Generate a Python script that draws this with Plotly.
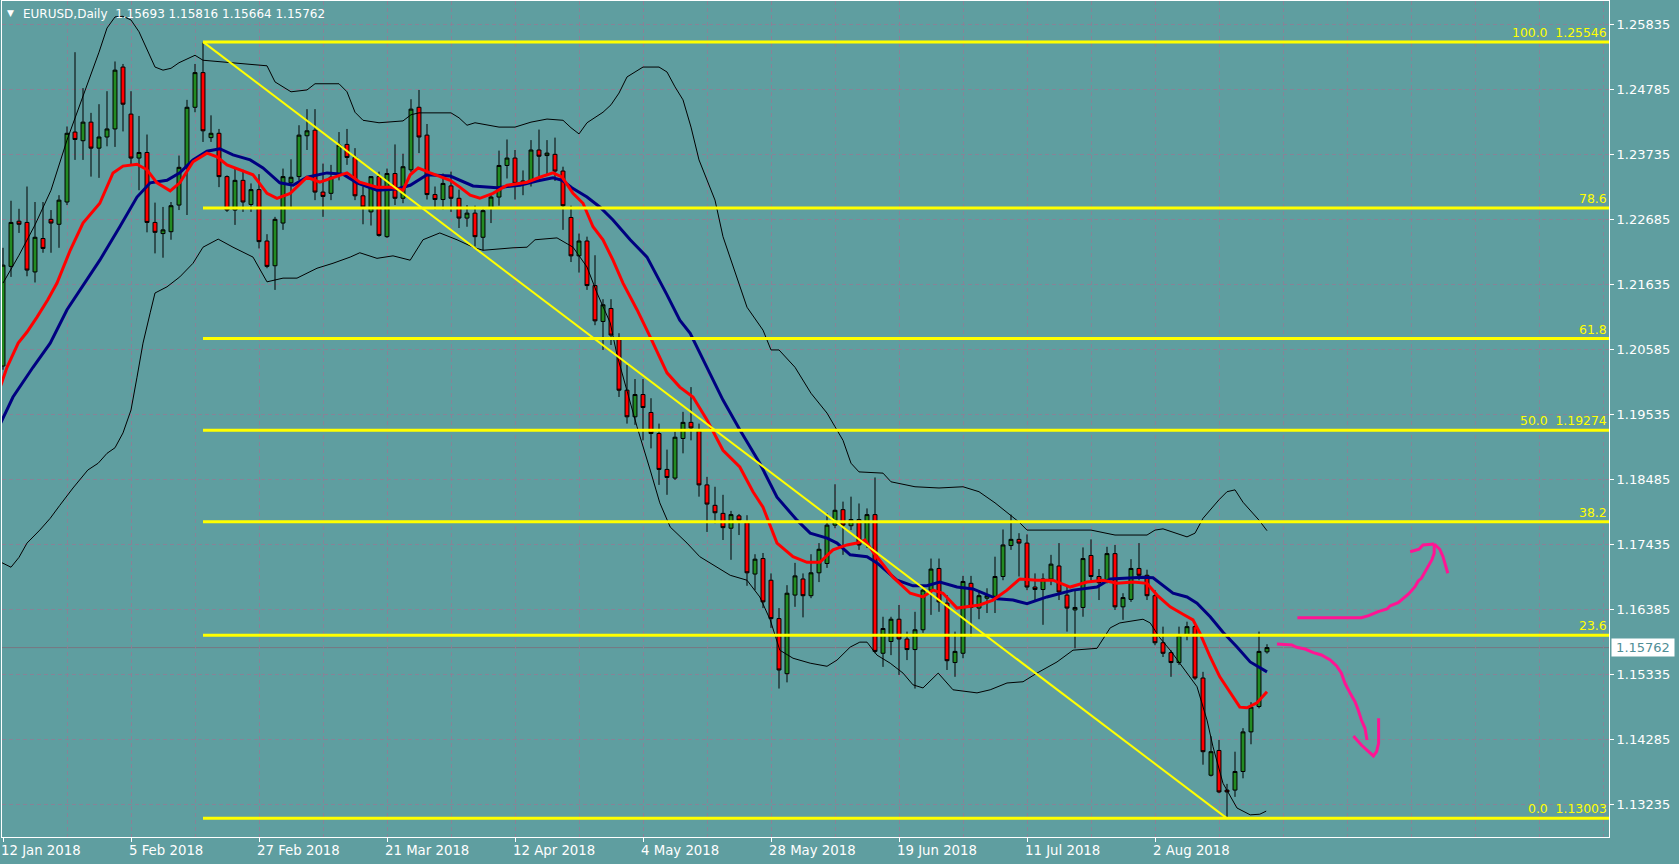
import plotly.graph_objects as go

# ---------------- data ----------------
bars = list(range(159))

opens = [1.2031, 1.2192, 1.2265, 1.2263, 1.2183, 1.2237, 1.2268, 1.2260, 1.2296, 1.2409,
         1.2395, 1.2425, 1.2383, 1.2401, 1.2414, 1.2514, 1.2438, 1.2367, 1.2376, 1.2263,
         1.2245, 1.2248, 1.2291, 1.2351, 1.2449, 1.2505, 1.2400, 1.2407, 1.2337, 1.2283,
         1.2331, 1.2292, 1.2316, 1.2233, 1.2193, 1.2262, 1.2327, 1.2337, 1.2403, 1.2412,
         1.2312, 1.2310, 1.2340, 1.2389, 1.2368, 1.2306, 1.2280, 1.2337, 1.2240, 1.2342,
         1.2302, 1.2348, 1.2449, 1.2404, 1.2308, 1.2300, 1.2322, 1.2302, 1.2270, 1.2278,
         1.2239, 1.2286, 1.2304, 1.2355, 1.2367, 1.2326, 1.2330, 1.2380, 1.2371, 1.2373,
         1.2346, 1.2271, 1.2209, 1.2233, 1.2161, 1.2103, 1.2124, 1.2076, 1.1992, 1.1949,
         1.1985, 1.1956, 1.1922, 1.1864, 1.1850, 1.1914, 1.1940, 1.1926, 1.1839, 1.1806,
         1.1793, 1.1769, 1.1789, 1.1778, 1.1695, 1.1720, 1.1685, 1.1623, 1.1534, 1.1661,
         1.1687, 1.1660, 1.1697, 1.1712, 1.1774, 1.1799, 1.1773, 1.1783, 1.1742, 1.1791,
         1.1567, 1.1586, 1.1622, 1.1590, 1.1573, 1.1605, 1.1669, 1.1704, 1.1648, 1.1552,
         1.1567, 1.1680, 1.1640, 1.1656, 1.1659, 1.1691, 1.1741, 1.1751, 1.1745, 1.1674,
         1.1670, 1.1687, 1.1708, 1.1661, 1.1637, 1.1641, 1.1725, 1.1691, 1.1685, 1.1728,
         1.1642, 1.1654, 1.1704, 1.1693, 1.1660, 1.1584, 1.1568, 1.1552, 1.1596, 1.1610,
         1.1527, 1.1370, 1.1410, 1.1346, 1.1346, 1.1376, 1.1440, 1.1481, 1.15693]

highs = [1.2222, 1.2298, 1.2285, 1.2321, 1.2296, 1.2296, 1.2283, 1.2307, 1.2418, 1.2538,
         1.2480, 1.2440, 1.2454, 1.2475, 1.2523, 1.2519, 1.2475, 1.2435, 1.2405, 1.2295,
         1.2288, 1.2296, 1.2371, 1.2461, 1.2519, 1.25546, 1.2436, 1.2414, 1.2339, 1.2350,
         1.2348, 1.2326, 1.2341, 1.2244, 1.2272, 1.2350, 1.2365, 1.2420, 1.2446, 1.2446,
         1.2358, 1.2356, 1.2409, 1.2414, 1.2383, 1.2321, 1.2338, 1.2345, 1.2350, 1.2389,
         1.2374, 1.2462, 1.2477, 1.2422, 1.2321, 1.2342, 1.2345, 1.2316, 1.2291, 1.2290,
         1.2288, 1.2310, 1.2379, 1.2397, 1.2380, 1.2347, 1.2396, 1.2413, 1.2396, 1.2400,
         1.2353, 1.2290, 1.2245, 1.2240, 1.2210, 1.2139, 1.2139, 1.2084, 1.2033, 1.2010,
         1.2010, 1.1979, 1.1938, 1.1896, 1.1925, 1.1957, 1.1997, 1.1938, 1.1852, 1.1836,
         1.1823, 1.1797, 1.1792, 1.1790, 1.1727, 1.1729, 1.1696, 1.1640, 1.1677, 1.1713,
         1.1696, 1.1727, 1.1745, 1.1793, 1.1840, 1.1812, 1.1820, 1.1809, 1.1801, 1.1851,
         1.1626, 1.1626, 1.1645, 1.1602, 1.1634, 1.1676, 1.1720, 1.1720, 1.1661, 1.1602,
         1.1692, 1.1692, 1.1669, 1.1672, 1.1723, 1.1767, 1.1791, 1.1761, 1.1759, 1.1696,
         1.1696, 1.1726, 1.1745, 1.1675, 1.1669, 1.1738, 1.1751, 1.1703, 1.1739, 1.1742,
         1.1664, 1.1719, 1.1745, 1.1702, 1.1669, 1.1610, 1.1572, 1.1610, 1.1618, 1.1613,
         1.1537, 1.1433, 1.1427, 1.1356, 1.1408, 1.1446, 1.1488, 1.1602, 1.15816]

lows = [1.2025, 1.2175, 1.2246, 1.2176, 1.2166, 1.2214, 1.2214, 1.2222, 1.2291, 1.2364,
        1.2364, 1.2337, 1.2335, 1.2386, 1.2385, 1.2410, 1.2356, 1.2315, 1.2247, 1.2213,
        1.2206, 1.2235, 1.2283, 1.2275, 1.2441, 1.2393, 1.2393, 1.2320, 1.2280, 1.2259,
        1.2280, 1.2280, 1.2221, 1.2189, 1.2154, 1.2251, 1.2288, 1.2331, 1.2380, 1.2299,
        1.2272, 1.2299, 1.2331, 1.2356, 1.2299, 1.2260, 1.2258, 1.2240, 1.2238, 1.2291,
        1.2294, 1.2344, 1.2375, 1.2300, 1.2284, 1.2284, 1.2280, 1.2254, 1.2256, 1.2224,
        1.2218, 1.2262, 1.2290, 1.2334, 1.2300, 1.2307, 1.2321, 1.2337, 1.2340, 1.2330,
        1.2251, 1.2199, 1.2182, 1.2154, 1.2097, 1.2057, 1.2065, 1.1981, 1.1938, 1.1936,
        1.1911, 1.1898, 1.1839, 1.1823, 1.1847, 1.1890, 1.1911, 1.1820, 1.1763, 1.1777,
        1.1750, 1.1718, 1.1758, 1.1676, 1.1669, 1.1640, 1.1608, 1.1510, 1.1520, 1.1642,
        1.1625, 1.1656, 1.1682, 1.1705, 1.1769, 1.1726, 1.1766, 1.1734, 1.1737, 1.1567,
        1.1545, 1.1564, 1.1532, 1.1556, 1.1510, 1.1600, 1.1629, 1.1634, 1.1540, 1.1529,
        1.1559, 1.1594, 1.1622, 1.1632, 1.1632, 1.1685, 1.1734, 1.1691, 1.1669, 1.1653,
        1.1613, 1.1677, 1.1653, 1.1602, 1.1575, 1.1626, 1.1685, 1.1653, 1.1680, 1.1637,
        1.1621, 1.1650, 1.1685, 1.1653, 1.1580, 1.1561, 1.1529, 1.1548, 1.1588, 1.1524,
        1.1387, 1.1368, 1.1341, 1.13003, 1.1335, 1.1365, 1.1420, 1.1478, 1.15664]

closes = [1.2194, 1.2263, 1.2260, 1.2186, 1.2239, 1.2221, 1.2262, 1.2299, 1.2407, 1.2397,
          1.2425, 1.2383, 1.2401, 1.2414, 1.2509, 1.2454, 1.2367, 1.2376, 1.2263, 1.2247,
          1.2251, 1.2290, 1.2352, 1.2449, 1.2505, 1.2411, 1.2407, 1.2337, 1.2283, 1.2331,
          1.2296, 1.2316, 1.2232, 1.2192, 1.2268, 1.2337, 1.2336, 1.2404, 1.2411, 1.2312,
          1.2305, 1.2336, 1.2388, 1.2368, 1.2306, 1.2288, 1.2337, 1.2242, 1.2342, 1.2302,
          1.2353, 1.2446, 1.2401, 1.2308, 1.2300, 1.2326, 1.2302, 1.2270, 1.2278, 1.2240,
          1.2282, 1.2304, 1.2355, 1.2367, 1.2326, 1.2330, 1.2380, 1.2370, 1.2375, 1.2346,
          1.2290, 1.2209, 1.2233, 1.2161, 1.2104, 1.2130, 1.2081, 1.1992, 1.1949, 1.1985,
          1.1964, 1.1922, 1.1864, 1.1851, 1.1916, 1.1940, 1.1931, 1.1839, 1.1808, 1.1794,
          1.1770, 1.1791, 1.1782, 1.1697, 1.1719, 1.1650, 1.1623, 1.1540, 1.1664, 1.1692,
          1.1660, 1.1697, 1.1735, 1.1774, 1.1798, 1.1774, 1.1783, 1.1742, 1.1791, 1.1570,
          1.1607, 1.1622, 1.1590, 1.1573, 1.1605, 1.1669, 1.1703, 1.1650, 1.1555, 1.1570,
          1.1683, 1.1641, 1.1660, 1.1660, 1.1691, 1.1742, 1.1751, 1.1745, 1.1674, 1.1670,
          1.1687, 1.1711, 1.1666, 1.1640, 1.1641, 1.1720, 1.1691, 1.1681, 1.1728, 1.1642,
          1.1657, 1.1704, 1.1693, 1.1660, 1.1584, 1.1567, 1.1552, 1.1596, 1.1610, 1.1527,
          1.1408, 1.1408, 1.1343, 1.1343, 1.1376, 1.1440, 1.1480, 1.1570, 1.15762]

# Bollinger upper / lower band and the two moving averages (bar position, price)
upper_x = [0, 2, 4, 6, 8, 10, 12, 13, 14, 15, 16, 17, 18, 19, 20, 21, 22, 24, 25, 26, 29, 33,
           34, 36, 38, 39, 42, 43, 44, 45, 47, 50, 51, 52, 56, 57, 58, 59, 62, 64, 66, 68, 70,
           71, 72, 73, 75, 76, 77, 78, 80, 82, 83, 84, 85, 86, 87, 89, 90, 92, 93, 95, 96, 97,
           99, 101, 103, 104, 105, 106, 107, 110, 111, 114, 117, 120, 122, 124, 126, 127, 128,
           132, 136, 139, 143, 144, 145, 148, 149, 150, 152, 153, 154, 155, 157, 158]
upper_y = [1.2165, 1.2210, 1.2259, 1.2315, 1.2396, 1.2466, 1.2538, 1.2577, 1.2595, 1.2596,
           1.2590, 1.2571, 1.2542, 1.2514, 1.2509, 1.2512, 1.2521, 1.2533, 1.2525, 1.2524,
           1.2521, 1.2516, 1.2490, 1.2474, 1.2477, 1.2487, 1.2487, 1.2474, 1.2441, 1.2428,
           1.2424, 1.2427, 1.2437, 1.2440, 1.2440, 1.2432, 1.2420, 1.2424, 1.2417, 1.2417,
           1.2425, 1.2430, 1.2428, 1.2416, 1.2406, 1.2424, 1.2441, 1.2453, 1.2472, 1.2498,
           1.2514, 1.2514, 1.2506, 1.2482, 1.2461, 1.2417, 1.2364, 1.2299, 1.2240, 1.2165,
           1.2126, 1.2089, 1.2057, 1.2057, 1.2029, 1.1987, 1.1955, 1.1933, 1.1911, 1.1874,
           1.1860, 1.1858, 1.1844, 1.1836, 1.1834, 1.1836, 1.1828, 1.1810, 1.1790, 1.1779,
           1.1766, 1.1766, 1.1766, 1.1758, 1.1758, 1.1766, 1.1768, 1.1755, 1.1761, 1.1785,
           1.1815, 1.1828, 1.1831, 1.1811, 1.1782, 1.1765]

lower_x = [-0.4, 1, 2, 3, 4.6, 5.9, 7.1, 8.75, 10.6, 11.9, 13, 14, 15, 16, 16.75, 17.5, 18.4,
           19, 20.5, 22.1, 23.75, 25, 26.9, 28.75, 31.25, 33, 35, 36.75, 39.25, 41.25, 43.4,
           44.6, 46.75, 48.75, 50.9, 52.5, 54.6, 56.75, 58.75, 60, 63.75, 65.5, 66.5, 69.25,
           71.25, 73, 74.25, 75.9, 76.75, 79.25, 80.9, 82.1, 83.4, 85.5, 87.1, 89.25, 90.9,
           93, 94.6, 95.9, 97.1, 98.75, 100.9, 103, 104.25, 105.9, 107.1, 108, 109.25, 110.9,
           112.5, 113.75, 115, 116.9, 118.75, 121.75, 123.4, 125.5, 127.5, 129.25, 131.75,
           133.75, 136.75, 138.4, 139.6, 142.5, 143.4, 144.6, 145.9, 149.25, 150.5, 151.25,
           152.5, 154.25, 155.9, 157.1, 157.9]
lower_y = [1.1715, 1.1706, 1.1722, 1.1745, 1.1766, 1.1785, 1.1806, 1.1834, 1.1863, 1.1874,
           1.1890, 1.1899, 1.1923, 1.1960, 1.2013, 1.2068, 1.2117, 1.2149, 1.2159, 1.2175,
           1.2197, 1.2223, 1.2236, 1.2223, 1.2207, 1.2167, 1.2173, 1.2173, 1.2189, 1.2197,
           1.2207, 1.2214, 1.2205, 1.2209, 1.2202, 1.2235, 1.2246, 1.2235, 1.2223, 1.2218,
           1.2222, 1.2223, 1.2235, 1.2238, 1.2223, 1.2191, 1.2149, 1.2101, 1.2049, 1.1933,
           1.1863, 1.1810, 1.1771, 1.1745, 1.1723, 1.1706, 1.1693, 1.1685, 1.1658, 1.1621,
           1.1572, 1.1559, 1.1551, 1.1546, 1.1556, 1.1577, 1.1585, 1.1585, 1.1564, 1.1551,
           1.1535, 1.1516, 1.1511, 1.1535, 1.1508, 1.1503, 1.1508, 1.1519, 1.1521, 1.1535,
           1.1553, 1.1572, 1.1575, 1.1608, 1.1616, 1.1622, 1.1616, 1.1592, 1.1572, 1.1513,
           1.1459, 1.1416, 1.1357, 1.1317, 1.1306, 1.1307, 1.1312]

red_ma_x = [-0.4, 0.5, 1.9, 3, 4.25, 5.6, 6.75, 8.4, 10, 12.1, 13.75, 15, 16.75, 18, 19.25,
            20.9, 22.1, 23.75, 25.5, 26.75, 28, 29.6, 31.25, 33, 34.25, 35.9, 38, 39.6, 41.25,
            43, 44.6, 46.75, 48.4, 50, 50.9, 51.9, 53.4, 55.9, 57.1, 58.4, 59.6, 61.25, 63,
            65.5, 67.1, 68.75, 69.9, 71.25, 72.5, 73.75, 75, 76.25, 77.5, 79.25, 80.9, 83,
            84.6, 86.25, 88, 90, 92.1, 93.75, 95, 96.75, 98.75, 100.5, 102.1, 103.75, 105.5,
            106.75, 107.75, 108.75, 111.25, 113.4, 115, 116.25, 117.5, 119.25, 122.1, 123.75,
            125.5, 127.1, 129.25, 131.25, 133.4, 135.5, 137.5, 139.25, 141.25, 143, 144.25,
            145.9, 147.5, 148.75, 149.6, 150.9, 152.1, 153.4, 154.6, 155.5, 156.75, 158]
red_ma_y = [1.1995, 1.2029, 1.2068, 1.2086, 1.2110, 1.2138, 1.2165, 1.2218, 1.2262, 1.2294,
            1.2343, 1.2354, 1.2357, 1.2348, 1.2327, 1.2314, 1.2327, 1.2361, 1.2375, 1.2369,
            1.2356, 1.2348, 1.2340, 1.2310, 1.2302, 1.2310, 1.2336, 1.2328, 1.2335, 1.2343,
            1.2328, 1.2320, 1.2320, 1.2315, 1.2340, 1.2351, 1.2343, 1.2331, 1.2320, 1.2307,
            1.2302, 1.2310, 1.2323, 1.2328, 1.2336, 1.2343, 1.2336, 1.2310, 1.2294, 1.2256,
            1.2235, 1.2202, 1.2165, 1.2122, 1.2078, 1.2020, 1.1997, 1.1981, 1.1944, 1.1895,
            1.1868, 1.1828, 1.1803, 1.1745, 1.1723, 1.1714, 1.1714, 1.1734, 1.1742, 1.1745,
            1.1750, 1.1731, 1.1690, 1.1664, 1.1658, 1.1669, 1.1664, 1.1640, 1.1645, 1.1653,
            1.1669, 1.1687, 1.1685, 1.1685, 1.1674, 1.1682, 1.1685, 1.1680, 1.1682, 1.1680,
            1.1661, 1.1642, 1.1630, 1.1621, 1.1600, 1.1561, 1.1529, 1.1503, 1.1480, 1.1479,
            1.1487, 1.1505]

navy_ma_x = [-0.4, 1.25, 3.75, 5.9, 8, 9.6, 12.1, 14.6, 16.75, 18.4, 20.5, 22.1, 23.75, 25.5,
             27.1, 28.75, 30.9, 32.5, 34.6, 36.25, 38, 40.5, 42.5, 44.25, 46.75, 49.25, 50.9,
             53, 55.9, 58.75, 61.75, 64.6, 66.75, 68.75, 69.9, 71.1, 73, 74.6, 76.25, 78.4,
             80.5, 83, 84.6, 85.9, 88, 90, 92.1, 94.6, 96.75, 99.25, 100.9, 103, 104.25, 105.9,
             108, 109.25, 111.75, 113.75, 115.5, 117.1, 119.25, 121.25, 124.25, 126.25, 128,
             130.5, 133.75, 136.75, 138.4, 140.5, 142.5, 143.75, 146.25, 148, 149.25, 150.9,
             152.5, 154.25, 155.9, 158]
navy_ma_y = [1.1936, 1.1981, 1.2029, 1.2068, 1.2122, 1.2154, 1.2202, 1.2256, 1.2304, 1.2327,
             1.2331, 1.2343, 1.2364, 1.2378, 1.2382, 1.2372, 1.2364, 1.2351, 1.2327, 1.2323,
             1.2336, 1.2343, 1.2341, 1.2327, 1.2315, 1.2317, 1.2323, 1.2340, 1.2338, 1.2322,
             1.2319, 1.2323, 1.2330, 1.2335, 1.2331, 1.2319, 1.2304, 1.2288, 1.2267, 1.2235,
             1.2207, 1.2146, 1.2105, 1.2084, 1.2029, 1.1976, 1.1928, 1.1874, 1.1819, 1.1782,
             1.1761, 1.1753, 1.1745, 1.1726, 1.1723, 1.1713, 1.1685, 1.1676, 1.1676, 1.1682,
             1.1674, 1.1671, 1.1655, 1.1653, 1.1647, 1.1658, 1.1669, 1.1674, 1.1687, 1.1689,
             1.1690, 1.1689, 1.1664, 1.1658, 1.1648, 1.1626, 1.1601, 1.1577, 1.1553, 1.1537]

# Time axis labels
date_ticks = [0, 16, 32, 48, 64, 80, 96, 112, 128, 144]
date_labels = ["12 Jan 2018", "5 Feb 2018", "27 Feb 2018", "21 Mar 2018", "12 Apr 2018",
               "4 May 2018", "28 May 2018", "19 Jun 2018", "11 Jul 2018", "2 Aug 2018"]
grid_bars = list(range(0, 201, 8))

# Price axis labels
price_ticks = [1.25835, 1.24785, 1.23735, 1.22685, 1.21635, 1.20585, 1.19535,
               1.18485, 1.17435, 1.16385, 1.15335, 1.14285, 1.13235]

# Fibonacci retracement
fib_start_bar = 25
fib_end_bar = 153
fib_high = 1.25546
fib_low = 1.13003
fib_levels = [100.0, 78.6, 61.8, 50.0, 38.2, 23.6, 0.0]
fib_with_price = [True, False, False, True, False, False, True]

# Hand drawn arrows (bar position, price)
arrow_up_x = [161.8, 169.8, 170.7, 171.9, 173.0, 173.4, 174.4, 175.7, 176.5, 176.9, 177.3,
              177.75, 178.2, 178.6, 178.9, 178.9, None, 175.9, 177.0, 177.5, 178.9, None,
              178.9, 179.6, 180.0, 180.3, 180.6]
arrow_up_y = [1.16245, 1.16245, 1.16277, 1.16342, 1.16385, 1.16438, 1.16487, 1.16628, 1.16746,
              1.16838, 1.16881, 1.16978, 1.17068, 1.17177, 1.17285, 1.17435, None, 1.17311,
              1.17350, 1.17419, 1.17435, None, 1.17435, 1.17350, 1.17230, 1.17096, 1.16962]
arrow_down_x = [159.25, 161.1, 161.7, 162.75, 163.8, 164.8, 165.9, 166.7, 167.3, 167.75,
                168.4, 169.0, 169.4, 169.8, 170.25, 170.5, None, 168.8, 169.8, 170.7, 171.3,
                171.7, 171.95, 171.95]
arrow_down_y = [1.15820, 1.15804, 1.15767, 1.15739, 1.15680, 1.15642, 1.15561, 1.15464,
                1.15347, 1.15185, 1.15023, 1.14887, 1.14754, 1.14592, 1.14458, 1.14269, None,
                1.14334, 1.14188, 1.14080, 1.14011, 1.14080, 1.14215, 1.14619]

symbol = "EURUSD,Daily"

# ---------------- styling ----------------
BG = "#5F9EA0"
GRID = "rgba(140,128,150,0.9)"
FONT = "DejaVu Sans"
X_RANGE = [-0.125, 200.75]
Y_RANGE = [1.12702, 1.26207]

fig = go.Figure()

fig.add_trace(go.Scatter(x=upper_x, y=upper_y, mode="lines",
                         line=dict(color="black", width=1), hoverinfo="skip"))
fig.add_trace(go.Scatter(x=lower_x, y=lower_y, mode="lines",
                         line=dict(color="black", width=1), hoverinfo="skip"))

fig.add_trace(go.Candlestick(
    x=bars, open=opens, high=highs, low=lows, close=closes,
    increasing=dict(fillcolor="#228B22", line=dict(color="black", width=1)),
    decreasing=dict(fillcolor="#FF0000", line=dict(color="black", width=1)),
    whiskerwidth=0, hoverinfo="skip"))

fig.add_trace(go.Scatter(x=navy_ma_x, y=navy_ma_y, mode="lines",
                         line=dict(color="#000080", width=3), hoverinfo="skip"))
fig.add_trace(go.Scatter(x=red_ma_x, y=red_ma_y, mode="lines",
                         line=dict(color="#FF0000", width=3), hoverinfo="skip"))

# Bid line at last close
last_close = closes[-1]
fig.add_shape(type="line", xref="paper", x0=0, x1=1, yref="y", y0=last_close, y1=last_close,
              line=dict(color="rgb(120,120,130)", width=1), layer="below")

# Fibonacci lines
fib_range = fib_high - fib_low
annotations = []
for lvl, show_price in zip(fib_levels, fib_with_price):
    price = fib_low + fib_range * lvl / 100.0
    fig.add_shape(type="line", xref="x", yref="y", x0=fib_start_bar, x1=X_RANGE[1],
                  y0=price, y1=price, line=dict(color="#FFFF00", width=3))
    label = f"{lvl:.1f}"
    if show_price:
        label += "\u00a0\u00a0" + f"{price:.5f}"
    annotations.append(dict(xref="paper", x=1, xanchor="right", yref="y", y=price,
                            yanchor="bottom", yshift=0, text=label, showarrow=False,
                            font=dict(family=FONT, size=12.4, color="#FFFF00")))
fig.add_shape(type="line", xref="x", yref="y", x0=fib_start_bar, y0=fib_high,
              x1=fib_end_bar, y1=fib_low, line=dict(color="#FFFF00", width=2))

# hand drawn arrows
fig.add_trace(go.Scatter(x=arrow_up_x, y=arrow_up_y, mode="lines",
                         line=dict(color="#FF1493", width=3), hoverinfo="skip"))
fig.add_trace(go.Scatter(x=arrow_down_x, y=arrow_down_y, mode="lines",
                         line=dict(color="#FF1493", width=3), hoverinfo="skip"))

# time axis labels, left-aligned on their tick as in the terminal
for b, txt in zip(date_ticks, date_labels):
    annotations.append(dict(xref="x", x=b, xanchor="left", xshift=-4, yref="paper", y=0,
                            yanchor="top", yshift=-4, text=txt, showarrow=False,
                            font=dict(family=FONT, size=13.3, color="white")))

# title
annotations.append(dict(xref="paper", x=0, xanchor="left", yref="paper", y=1, yanchor="top",
                        xshift=3, yshift=-5, text="\u25bc", showarrow=False,
                        font=dict(family=FONT, size=9, color="white")))
annotations.append(dict(xref="paper", x=0, xanchor="left", yref="paper", y=1, yanchor="top",
                        xshift=19, yshift=-4,
                        text=f"{symbol}\u00a0\u00a0{opens[-1]:.5f} {highs[-1]:.5f} {lows[-1]:.5f} {closes[-1]:.5f}",
                        showarrow=False, font=dict(family=FONT, size=12, color="white")))
# current price tag
annotations.append(dict(xref="paper", x=1, xanchor="left", xshift=2, yref="y", y=last_close,
                        yanchor="middle", text=f"{last_close:.5f}", showarrow=False,
                        bgcolor="white", width=60, height=15, borderpad=1,
                        font=dict(family=FONT, size=13, color="#4F8E96")))

fig.update_layout(
    width=1679, height=864,
    margin=dict(l=2, r=70, t=1, b=27),
    paper_bgcolor=BG, plot_bgcolor=BG,
    showlegend=False,
    annotations=annotations,
    font=dict(family=FONT, size=12, color="white"),
    xaxis=dict(
        range=X_RANGE, rangeslider=dict(visible=False),
        tickmode="array", tickvals=date_ticks, ticktext=date_labels, showticklabels=False,
        ticks="outside", ticklen=4, tickcolor="white", tickwidth=1,
        showgrid=True, gridcolor=GRID, griddash="4px,3px", gridwidth=1,
        minor=dict(tickmode="array", tickvals=grid_bars, showgrid=True, gridcolor=GRID,
                   griddash="4px,3px", gridwidth=1, ticks=""),
        showline=True, linecolor="white", linewidth=1, mirror=True, zeroline=False,
        fixedrange=True),
    yaxis=dict(
        range=Y_RANGE, side="right",
        tickmode="array", tickvals=price_ticks, ticktext=[f"{v:.5f}" for v in price_ticks],
        ticks="outside", ticklen=4, tickcolor="white", tickwidth=1,
        tickfont=dict(family=FONT, size=13, color="white"),
        showgrid=True, gridcolor=GRID, griddash="4px,3px", gridwidth=1,
        showline=True, linecolor="white", linewidth=1, mirror=True, zeroline=False,
        fixedrange=True),
)

fig.write_html("out.html", config={"displayModeBar": False})

# remove the browser's default page margin so the figure sits at the window origin
with open("out.html", "r", encoding="utf-8") as f:
    html = f.read()
html = html.replace("<head>", "<head><style>html,body{margin:0;padding:0;overflow:hidden;background:#5F9EA0;}</style>", 1)
with open("out.html", "w", encoding="utf-8") as f:
    f.write(html)
